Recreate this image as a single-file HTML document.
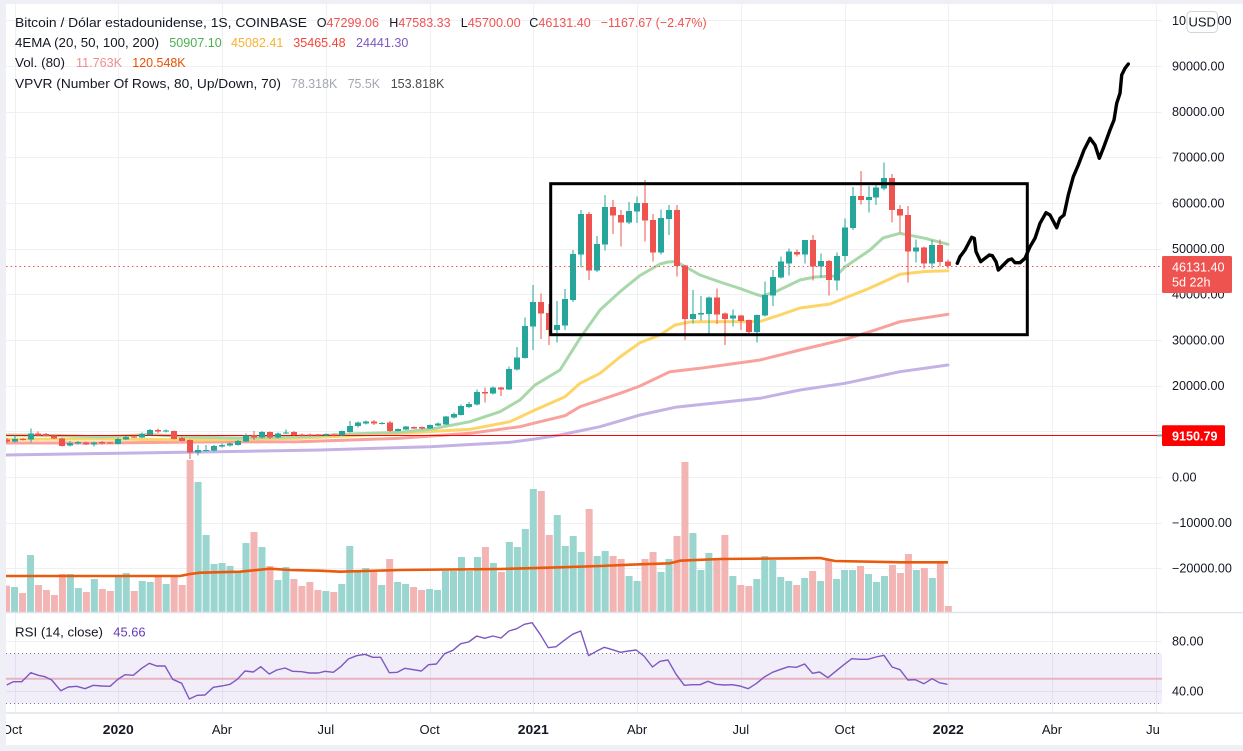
<!DOCTYPE html>
<html><head><meta charset="utf-8">
<style>
html,body{margin:0;padding:0;background:#fff;}
body{width:1243px;height:751px;overflow:hidden;position:relative;}
svg{position:absolute;left:0;top:0;}
text{font-family:"Liberation Sans",sans-serif;}
</style></head><body>
<svg id="s" width="1243" height="751" viewBox="0 0 1243 751" xmlns="http://www.w3.org/2000/svg">
<rect x="0" y="0" width="1243" height="751" fill="#eef0f5"/>
<rect x="6" y="4" width="1237" height="741" fill="#ffffff"/>
<g id="grid" stroke="#eef0f4" stroke-width="1" shape-rendering="crispEdges"></g>
<!-- RSI band -->
<rect x="6" y="653.5" width="1156" height="50" fill="#7e57c2" fill-opacity="0.1"/>
<line x1="6" y1="653.5" x2="1162" y2="653.5" stroke="#787b86" stroke-dasharray="1,3"/>
<line x1="6" y1="703.5" x2="1162" y2="703.5" stroke="#787b86" stroke-dasharray="1,3"/>
<line x1="6" y1="678.7" x2="1162" y2="678.7" stroke="#e6b3c0" stroke-width="2"/>
<g id="vol"></g>
<polyline id="vma" fill="none" stroke="#ea5a0c" stroke-width="2.6" stroke-linejoin="round"/>
<g id="ema" fill="none" stroke-width="3" stroke-linejoin="round" stroke-linecap="round"></g>
<line x1="6" y1="435.5" x2="1162" y2="435.5" stroke="#ff0000" stroke-width="1"/>
<g id="cdl" shape-rendering="crispEdges"></g>
<line x1="6" y1="266.5" x2="1162" y2="266.5" stroke="#ef5350" stroke-width="1" stroke-dasharray="1.5,3"/>
<polyline id="rsi" fill="none" stroke="#7e57c2" stroke-width="1.4" stroke-linejoin="round"/>
<rect x="550.7" y="183.7" width="476.6" height="151" fill="none" stroke="#000" stroke-width="3"/>
<polyline id="hand" fill="none" stroke="#000" stroke-width="3.4" stroke-linejoin="round" stroke-linecap="round"/>
<!-- pane separators -->
<line x1="6" y1="612.5" x2="1243" y2="612.5" stroke="#e0e3eb" stroke-width="1.5"/>
<line x1="6" y1="713" x2="1243" y2="713" stroke="#e0e3eb" stroke-width="1.5"/>
<rect x="1162" y="4" width="81" height="608" fill="#fff"/>
<rect x="1162" y="613.5" width="81" height="99" fill="#fff"/>

<!-- legend -->
<g font-size="13" fill="#131722">
<text x="15" y="27" textLength="292" lengthAdjust="spacingAndGlyphs">Bitcoin / Dólar estadounidense, 1S, COINBASE</text>
<text x="316.7" y="27" textLength="62.3" lengthAdjust="spacingAndGlyphs">O<tspan fill="#ef5350">47299.06</tspan></text>
<text x="389.3" y="27" textLength="61.3" lengthAdjust="spacingAndGlyphs">H<tspan fill="#ef5350">47583.33</tspan></text>
<text x="460.7" y="27" textLength="60" lengthAdjust="spacingAndGlyphs">L<tspan fill="#ef5350">45700.00</tspan></text>
<text x="529.3" y="27" textLength="61.4" lengthAdjust="spacingAndGlyphs">C<tspan fill="#ef5350">46131.40</tspan></text>
<text x="600.7" y="27" fill="#ef5350" textLength="106" lengthAdjust="spacingAndGlyphs">−1167.67 (−2.47%)</text>
<text x="15" y="47" textLength="144" lengthAdjust="spacingAndGlyphs">4EMA (20, 50, 100, 200)</text>
<text x="169.3" y="47" fill="#4caf50" textLength="52.5" lengthAdjust="spacingAndGlyphs">50907.10</text>
<text x="231" y="47" fill="#f9b233" textLength="52.3" lengthAdjust="spacingAndGlyphs">45082.41</text>
<text x="293.3" y="47" fill="#f44336" textLength="52.3" lengthAdjust="spacingAndGlyphs">35465.48</text>
<text x="356" y="47" fill="#7e57c2" textLength="52.3" lengthAdjust="spacingAndGlyphs">24441.30</text>
<text x="15" y="67" textLength="50" lengthAdjust="spacingAndGlyphs">Vol. (80)</text>
<text x="76" y="67" fill="#ef8e8c" textLength="46" lengthAdjust="spacingAndGlyphs">11.763K</text>
<text x="132.3" y="67" fill="#e65100" textLength="53.3" lengthAdjust="spacingAndGlyphs">120.548K</text>
<text x="15" y="88" textLength="266" lengthAdjust="spacingAndGlyphs">VPVR (Number Of Rows, 80, Up/Down, 70)</text>
<text x="291" y="88" fill="#a3a6af" textLength="46.3" lengthAdjust="spacingAndGlyphs">78.318K</text>
<text x="347.7" y="88" fill="#a3a6af" textLength="32.3" lengthAdjust="spacingAndGlyphs">75.5K</text>
<text x="390.7" y="88" fill="#4a4a4a" textLength="53.7" lengthAdjust="spacingAndGlyphs">153.818K</text>
<text x="15" y="636.5" textLength="88" lengthAdjust="spacingAndGlyphs">RSI (14, close)</text>
<text x="113.3" y="636.5" fill="#673ab7" textLength="32.3" lengthAdjust="spacingAndGlyphs">45.66</text>
</g>

<!-- price axis -->
<g font-size="12.6" fill="#131722">
<text x="1172" y="25">100000.00</text>
<text x="1172" y="70.5">90000.00</text>
<text x="1172" y="116">80000.00</text>
<text x="1172" y="161.5">70000.00</text>
<text x="1172" y="207.5">60000.00</text>
<text x="1172" y="253">50000.00</text>
<text x="1172" y="298.5">40000.00</text>
<text x="1172" y="344.5">30000.00</text>
<text x="1172" y="390">20000.00</text>
<text x="1172" y="481.5">0.00</text>
<text x="1172" y="527">−10000.00</text>
<text x="1172" y="572.5">−20000.00</text>
<text x="1172" y="645.5">80.00</text>
<text x="1172" y="695.5">40.00</text>
</g>
<rect x="1187" y="11.5" width="30.5" height="21" rx="4" fill="#fff" stroke="#d1d4dc" stroke-width="1"/>
<text x="1202.2" y="26.5" font-size="13" fill="#131722" text-anchor="middle">USD</text>
<rect x="1162" y="256" width="70" height="37" rx="1.5" fill="#ef5350"/>
<text x="1172" y="271.5" font-size="12.6" fill="#fff">46131.40</text>
<text x="1172" y="286.7" font-size="12.6" fill="#fff">5d 22h</text>
<rect x="1157" y="434.5" width="5" height="2" fill="#9598a1"/>
<rect x="1162" y="425.3" width="63" height="20.7" rx="1.5" fill="#ff0000"/>
<text x="1172" y="440.5" font-size="12.6" fill="#fff" font-weight="bold">9150.79</text>

<!-- time axis -->
<g font-size="13" fill="#131722" text-anchor="middle">
<text x="12" y="734">Oct</text>
<text x="118.3" y="734" font-weight="bold" textLength="31" lengthAdjust="spacingAndGlyphs">2020</text>
<text x="222" y="734">Abr</text>
<text x="325.8" y="734">Jul</text>
<text x="429.6" y="734">Oct</text>
<text x="533.3" y="734" font-weight="bold" textLength="31" lengthAdjust="spacingAndGlyphs">2021</text>
<text x="637.1" y="734">Abr</text>
<text x="740.8" y="734">Jul</text>
<text x="844.6" y="734">Oct</text>
<text x="948.3" y="734" font-weight="bold" textLength="31" lengthAdjust="spacingAndGlyphs">2022</text>
<text x="1052" y="734">Abr</text>
<text x="1153" y="734">Ju</text>
</g>
<rect x="0" y="0" width="6" height="751" fill="#eef0f5"/>
<rect x="0" y="745" width="1243" height="6" fill="#eef0f5"/>
<rect x="0" y="0" width="1243" height="4" fill="#eef0f5"/>
</svg>
<script>
(function(){
var NS="http://www.w3.org/2000/svg";
function el(n,a,p){var e=document.createElementNS(NS,n);for(var k in a)e.setAttribute(k,a[k]);p.appendChild(e);return e;}
function X(i){return 118.3+7.981*i;}
// grid
var g=document.getElementById('grid');
[19.5,66,111.5,157,203,248.5,294,340,385.5,431,477,522.5,568,641,691].forEach(function(y){
  var y2=Math.round(y)+0.5; el('line',{x1:6,y1:y2,x2:1162,y2:y2},g);});
[-13,0,13,26,39,52,65,78,91,104,117,130].forEach(function(i){
  var x=Math.round(X(i))+0.5; el('line',{x1:x,y1:4,x2:x,y2:713},g);});
// volume
var V="r 585.7|g 587|r 593|g 555|r 585|r 590|r 595|r 574|g 574|g 588|r 592|g 579|r 589|r 591|g 575|g 573|r 591|g 581|g 582|r 575|g 584|r 576.7|r 585|r 460|g 482|g 535|g 564|g 563|g 566|g 571.7|g 543|r 532|g 547|r 566|g 580|g 567|r 579|r 586|r 582|r 590|g 591|r 592|g 584|g 546|g 571.7|g 568|r 571.7|g 585|r 559|g 582|g 584|r 587|r 590|g 589|g 590|g 571|g 571|g 557|g 571|g 557|r 547|g 563|r 572|g 542|g 547|g 529|g 489|r 491|r 535|g 515|g 546|g 536|g 552|r 509|g 556|g 551|r 556|r 559|g 576|g 581|r 559|r 552|g 572|g 559|r 536|r 462|g 533|g 570|g 553|r 558|r 535|g 576|r 585|r 586|g 579|g 556|g 560|g 577|g 581|r 585|g 578|r 571|g 581|r 560|g 579|g 570|g 570|r 566|g 574|g 582|g 576|r 565|r 573|r 554|g 570|r 568|g 578|r 563|r 606".split('|');
var vg=document.getElementById('vol');
V.forEach(function(s,k){var p=s.split(' ');var i=k-14;var x=X(i);var t=parseFloat(p[1]);
  var x0=Math.max(6,x-3.5);
  el('rect',{x:x0,y:t,width:(x+3.5)-x0,height:612-t,fill:p[0]=='g'?'#9ad5cf':'#f2b5b4'},vg);});
document.getElementById('vma').setAttribute('points',"6,576 180,576 190,574 200,572.7 240,571.7 270,568.7 290,570 320,570.7 340,571.7 400,570 500,569 560,567.3 600,566 640,564.3 670,563.3 680,560.7 720,559 800,558.3 820,558 835,561 900,562.3 948,562.3");
// EMAs
var eg=document.getElementById('ema');
var E=[
["#c4b2e4","6,455 100,453.5 200,452 320,450 430,446.7 510,442.3 535,439 560,435 600,426.7 640,415 675,407.3 760,398.3 800,390 845,383.3 900,371.7 948,365"],
["#f9a19c","6,443 100,443 200,442 300,441.7 400,438.3 470,433.3 520,426.7 540,421.7 565,415.7 580,406.7 600,400 620,393.3 640,386 670,371.7 700,368.3 760,360 800,350 845,339.3 870,331.7 900,321.7 948,314.3"],
["#fdd567","6,439.3 100,439 200,440 300,438.3 400,433.3 470,429.3 510,421.7 535,410 565,396.7 580,383.3 600,373.3 620,357 640,342.7 660,335 675,325 690,322 700,321.7 760,321.5 780,315 800,308 830,304 845,298 870,288 900,274.3 925,271.5 948,270.7"],
["#a8d8a9","6,435 60,435.5 100,437 150,434.5 190,437 240,438 300,436.7 350,434 400,432.3 430,429.3 470,421.7 500,411.7 520,400 535,385 560,370 580,338.3 600,310 620,291.7 640,275.5 660,264 668,262 676,261.5 684,266 700,275 720,282 740,288.5 755,294 762,296 775,292 800,280 815,277 836,276 845,267 870,250 883,238 900,233.3 925,238.3 948,244.3"]];
E.forEach(function(e){el('polyline',{points:e[1],stroke:e[0]},eg);});
// candles
var K="r 439.3 441.7 438 443|g 439 441.7 435.7 442.3|r 439 440 438 440.5|g 433.3 439.3 428.3 442.7|r 433.3 435.3 431.7 436|r 434 436 433 436.5|r 435.3 438.7 434.5 439|r 438.3 446 437.5 446.5|g 443 445.7 441 446.7|g 442 443.7 441 444.5|r 442.3 444.7 441.5 445|g 442.3 444.7 441.5 446.7|r 442 443.7 441 444.3|r 442.7 443.3 442 444|g 439 444 437.5 444.5|g 437 439.7 436 440|r 436.7 437.3 435.5 438|g 434 437.7 432.7 438|g 430 435 429 435.5|r 430 431.7 428.5 433|g 430.7 431.3 429.5 432.5|r 431 439 430.5 439.5|r 438 441 436.5 441.5|r 440 452.7 439.5 459|g 450 452.7 445 455.7|g 450 450.7 445 451.5|g 446 450.7 445 451.5|g 445 446.7 443.5 447.5|g 443.7 445.7 442.5 446.5|g 441 445 440 445.5|g 435.7 441.7 433.3 442|r 435 437.7 431 440|g 432 437.7 431 438.5|r 432 437.7 431.5 439|g 433.3 437.7 432.5 438.5|g 432.7 433.3 429.3 434|r 432 435 431 436|r 434.3 435.7 433.5 436.5|r 434.3 435.7 433.5 436.5|r 434.7 435.3 434 436.3|g 434 435.3 433.7 436|r 434.3 435.7 433.7 436.3|g 431 435.7 430.5 436|g 426 432 421 432.5|g 422.7 426 421.5 427.5|g 421.7 423.7 420.5 424.3|r 421.7 423.7 420 425|g 423 423.7 422 424.7|r 422.7 431 421 432|g 429 431 428.3 431.7|g 426.7 429.3 426 430|r 427.3 428 426.5 429|r 427 428.3 426.3 429.3|g 425 428.3 424.3 429|g 423.7 425.3 422.7 426|g 416.7 424.3 416 425|g 414 417.7 412.7 418.3|g 406 415 404.7 415.7|g 404 407 402 408|g 392 404.7 389.7 405.3|r 392 393.7 387.7 402.7|g 387.7 393.7 386.7 394.3|r 387.7 389.3 387 396|g 369 389.3 366.3 390|g 357.3 369.7 347 370.3|g 326 358 317.7 358.5|g 302 326.7 285 350|r 302 313.3 293.3 339|r 313 330 304 345|g 325 330 301 342.7|g 299 325.7 289 330|g 254 300 250 302|g 214 254.7 210 267.7|r 214 270.7 212 280|g 244 270.7 236 272|g 207 244.7 195 250.7|r 207 215.7 200 234|r 215 222.7 210 246.7|g 211 222.7 202 224|g 203 211.7 196.7 223|r 203 220.7 180 241.7|r 220 252.7 214 261.7|g 218 252.7 209.3 254.3|g 210 219 205 235|r 210 266 205 276.7|r 265.7 319 265 340|g 314 319 290 323.3|g 313 314.7 296 320.7|g 297.7 314 296.7 334|r 297.7 314.7 288.3 324|r 313.7 319 312.7 345|g 315.7 318.3 309.3 326.7|r 315.7 321 315 330|r 320 332 319.5 334|g 315 332 314.5 342.7|g 295 315.7 281.7 316.5|g 277 295.7 270 306|g 261.7 277.7 256.7 278.3|g 251.7 263.3 248.3 275.7|r 252 254.7 249.3 256.7|g 240 254.7 240 263.3|r 240 266.7 235 280.7|g 261 266.7 253.3 277.7|r 261 280 260 295.7|g 256 280.7 252.7 290.7|g 227.3 256 218.3 261.7|g 196 228 187 230|r 196 200 171 204.3|g 197 200 186 212.7|g 187.7 197.7 185 205|g 178 188.7 162.3 190.7|r 178 210 174 222.7|r 209 215.7 205 232.7|r 215 251.7 206 282.7|g 247.7 251.7 239.3 262.7|r 247.7 263.3 246.7 268.3|g 245 263.3 240 268.3|r 245 262 239.3 266.7|r 261.7 266 259.3 268.3".split('|');
var cg=document.getElementById('cdl');
K.forEach(function(s,k){var p=s.split(' ');var i=k-14;var x=Math.round(X(i));
  var c=p[0]=='g'?'#26a69a':'#ef5350';
  var bt=parseFloat(p[1]),bb=parseFloat(p[2]),wt=parseFloat(p[3]),wb=parseFloat(p[4]);
  if(bb-bt<1.2){var m=(bt+bb)/2;bt=m-0.6;bb=m+0.6;}
  el('rect',{x:x-0.5,y:wt,width:1,height:wb-wt,fill:c},cg);
  var x0=Math.max(6,x-3);
  el('rect',{x:x0,y:bt,width:(x+3)-x0,height:bb-bt,fill:c},cg);});
document.getElementById('rsi').setAttribute('points',"6.7,685 13.3,681.7 21.7,681.7 30.7,672.7 38.3,675.3 45,676.7 51.7,680 60.7,690.7 68.3,687 76.7,686.3 85,688.7 93.3,685.3 101.7,686 110,686.3 118.3,679 125,674.7 133.3,675.3 141.7,668.3 149.3,663.3 156.7,666 165,666 172.7,679.3 181.7,683.3 189.3,699 197.3,695.3 205,695 213.3,687.3 221.7,686 230,684.3 237.3,679.3 245,671 253.3,672 260.7,666.7 269.3,674 276.7,670 285,668 292.7,671.3 301.7,671.7 309.3,673 318.3,673 325,671.3 333.3,672.3 340.7,666.7 348.3,659 356.7,655.7 365,654.3 372.7,657.3 380.7,657.3 389.3,672.7 397.3,672.3 405,668.3 421.4,671 428.6,664.7 436.4,664 444.6,653.7 452.9,650.3 460.7,643.7 468.6,642 476.8,636 484.6,638.3 492.9,636 501.1,638 508.9,631 516.8,628.7 524.3,624.3 532.1,622.7 540.4,634.7 548.2,647.7 556.1,646.7 564.3,640.3 572.5,634.3 580.7,631 588.6,655.7 596.4,651.3 604.3,647.3 612.5,649.7 620.4,652.3 628.6,651 636.1,650 643.9,656 652.5,667 660,661.3 667.9,660 676.1,674.3 684.3,685.3 692.1,684.7 700,684.7 707.9,681.3 716.1,684.3 724.3,685 732.1,684.7 740,686 748.2,688.7 756.1,683.7 764.3,677 772.5,672.3 780.7,669.3 788.6,666.7 796.4,667.3 804.6,664 812.5,673.3 819.6,672 827.9,677.7 835.7,671.3 843.9,664.7 851.8,658.7 859.6,659.3 867.9,659.3 876.1,657 883.9,655.3 892.1,667 900,669.7 907.9,680 915.4,679.7 923.9,683.7 932.1,678.7 939.3,682.7 947.5,684.3");
document.getElementById('hand').setAttribute('points',"957.3,263.3 960,256.7 965,250 971.7,237.3 974.3,238.3 976,251.7 980.7,261.7 985,258.3 989.3,255 992.3,255.7 996,261.7 998.3,270 1003.3,265 1008.3,260 1011.7,259 1015,262.7 1020,262.7 1025,258.3 1030,246.7 1035,238.3 1040,223.3 1046,212.7 1050,215 1056.7,227.7 1060,218.3 1064,215 1068.3,195 1073.3,176.7 1078.3,165 1084,150 1090,138.3 1095,145 1099.3,158.3 1103.3,148.3 1110,130 1114,120 1116.7,103.3 1120,93.3 1121.7,75 1125,68.3 1128.3,64");
})();
</script>
</body></html>
